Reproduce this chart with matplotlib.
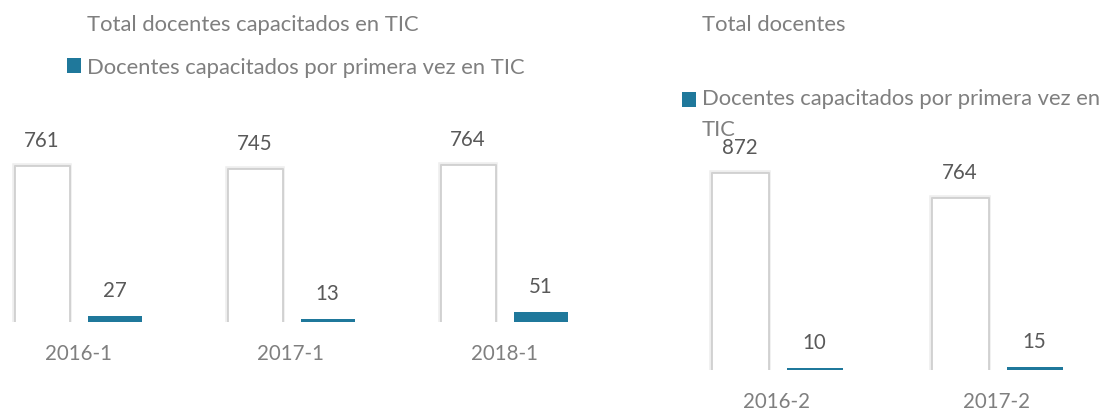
import numpy as np
import matplotlib
matplotlib.use('Agg')
import matplotlib.pyplot as plt
import matplotlib.patheffects as pe
from matplotlib.patches import Patch, Rectangle
from matplotlib.legend_handler import HandlerPatch

plt.rcParams['font.family'] = ['Lato', 'DejaVu Sans']

# primer semestre
sem1 = ['2016-1', '2017-1', '2018-1']
total1 = [761, 745, 764]
nuevos1 = [27, 13, 51]

# segundo semestre
sem2 = ['2016-2', '2017-2']
total2 = [872, 764]
nuevos2 = [10, 15]

TEAL = '#1F789B'
GRIS = '#7f7f7f'
FS = 14.8
FS_LEG = 15.8
W, H = 1110, 414


def draw_panel(ax, cats, tot, new, width, off):
    x = np.arange(len(cats))
    sombra = [pe.Stroke(linewidth=4, foreground='#eeeeee'),
              pe.Stroke(linewidth=1.8, foreground='#c8c8c8'), pe.Normal()]
    b1 = ax.bar(x - off, tot, width, color='white', edgecolor='#d2d2d2',
                linewidth=0.6, path_effects=sombra)
    b2 = ax.bar(x + off, new, width, color=TEAL, linewidth=0,
                path_effects=[pe.SimplePatchShadow(offset=(0.6, -1), shadow_rgbFace='#999999', alpha=0.35),
                              pe.Normal()])
    for bars, vals in ((b1, tot), (b2, new)):
        for r, v in zip(bars, vals):
            ax.annotate(str(v), (r.get_x() + r.get_width() / 2, v), xytext=(0, 18.7),
                        textcoords='offset points', ha='center', va='center',
                        fontsize=FS, color='#595959')
    ax.set_xticks(x, cats)
    ax.tick_params(axis='x', length=0, pad=15, labelsize=FS, labelcolor=GRIS)
    ax.set_yticks([])
    for s in ax.spines.values():
        s.set_visible(False)
    ax.patch.set_visible(False)


def raise_patch(legend, orig_handle, xdescent, ydescent, width, height, fontsize):
    # cuadro alineado con la primera linea de la etiqueta
    return Rectangle((-xdescent, -ydescent + 0.64 * fontsize), width, height)


fig = plt.figure(figsize=(W / 100, H / 100), dpi=100)

ax1 = fig.add_axes([0, 91 / H, 600 / W, 213 / H])
draw_panel(ax1, sem1, total1, nuevos1, 54 / 213, 36.5 / 213)
ax1.set_xlim(-78 / 213, 522 / 213)
ax1.set_ylim(0, 213 / 0.2055)

ax2 = fig.add_axes([680 / W, 43 / H, 430 / W, 221 / H])
draw_panel(ax2, sem2, total2, nuevos2, 56 / 220, 37.5 / 220)
ax2.set_xlim(-97 / 220, 333 / 220)
ax2.set_ylim(0, 221 / 0.2255)

leg_kw = dict(loc='upper left', frameon=False, borderpad=0, borderaxespad=0,
              handlelength=0.66, handleheight=0.66, handletextpad=0.25,
              fontsize=FS_LEG, labelcolor=GRIS)

fig.legend([Patch(facecolor='white', edgecolor='none'), Patch(facecolor=TEAL)],
           ['Total docentes capacitados en TIC', 'Docentes capacitados por primera vez en TIC'],
           bbox_to_anchor=(67 / W, 1 - 15 / H), labelspacing=1.07, **leg_kw)

p_teal = Patch(facecolor=TEAL)
leg2 = fig.legend([Patch(facecolor='white', edgecolor='none'), p_teal],
                  ['Total docentes', 'Docentes capacitados por primera vez en\nTIC'],
                  bbox_to_anchor=(682 / W, 1 - 15 / H), labelspacing=2.46,
                  handler_map={p_teal: HandlerPatch(patch_func=raise_patch)}, **leg_kw)
for t in leg2.get_texts():
    t.set_linespacing(1.67)

fig.savefig('out.png', dpi=100)
